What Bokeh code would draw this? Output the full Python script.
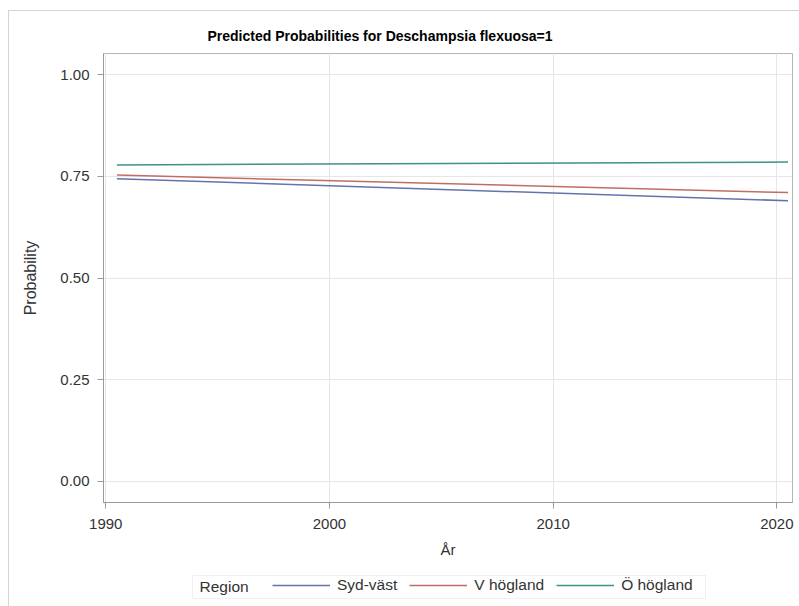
from bokeh.plotting import figure
from bokeh.layouts import column
from bokeh.models import (Legend, LegendItem, FixedTicker, Range1d, Label,
                          BoxAnnotation, NumeralTickFormatter)
from bokeh.embed import file_html
from bokeh.resources import INLINE

# Predicted probabilities per region over the study period
years = [1990.5, 2020.5]
syd_vast = [0.744, 0.690]
v_hogland = [0.753, 0.710]
o_hogland = [0.778, 0.785]

regions = ["Syd-väst", "V högland", "Ö högland"]
colors = ["#6672ad", "#bf6e66", "#3f9284"]

x_ticks = [1990, 2000, 2010, 2020]
y_ticks = [0.0, 0.25, 0.5, 0.75, 1.0]

FONT = "Liberation Sans"
TXT = "#333333"
W = 790
FRAME_L, FRAME_R = 103, 792   # page x of the plot frame edges

# main plot
p = figure(width=W, height=549, output_backend="svg", toolbar_location=None,
           x_range=Range1d(1989.9, 2020.7), y_range=Range1d(-0.052, 1.052),
           min_border_left=94, min_border_right=7, min_border_top=42,
           min_border_bottom=58)

p.title.text = "Predicted Probabilities for Deschampsia flexuosa=1"
p.title.align = "left"
p.title.offset = 104
p.title.standoff = 20
p.title.text_font = FONT
p.title.text_font_size = "14px"
p.title.text_font_style = "bold"
p.title.text_color = "#000000"

p.outline_line_color = "#b4b4b4"
p.background_fill_color = "white"
p.border_fill_color = "white"

for ax in (p.xaxis, p.yaxis):
    ax.axis_line_color = "#999999"
    ax.major_tick_line_color = "#999999"
    ax.major_tick_out = 6
    ax.major_tick_in = 0
    ax.minor_tick_line_color = None
    ax.major_label_text_font = FONT
    ax.major_label_text_font_size = "15px"
    ax.major_label_text_color = TXT
    ax.axis_label_text_font = FONT
    ax.axis_label_text_font_size = "15px"
    ax.axis_label_text_font_style = "normal"
    ax.axis_label_text_color = TXT

p.yaxis.axis_label_text_font_size = "16px"

p.xaxis.ticker = FixedTicker(ticks=x_ticks)
p.yaxis.ticker = FixedTicker(ticks=y_ticks)
p.yaxis.formatter = NumeralTickFormatter(format="0.00")
p.xaxis.axis_label = "År"
p.yaxis.axis_label = "Probability"
p.xaxis.major_label_standoff = 10
p.xaxis.axis_label_standoff = 9
p.yaxis.major_label_standoff = 8
p.yaxis.axis_label_standoff = 18

p.grid.grid_line_color = "#e6e6e6"
p.grid.grid_line_width = 1

for vals, col in zip([syd_vast, v_hogland, o_hogland], colors):
    p.line(years, vals, line_color=col, line_width=1.5)

# legend strip below the plot; its frame lines up with the plot frame,
# so its x range is given in page pixels
LH = 46
leg = figure(width=W, height=LH, output_backend="svg", toolbar_location=None,
             x_range=Range1d(FRAME_L, FRAME_R), y_range=Range1d(0, LH),
             x_axis_type=None, y_axis_type=None, min_border=0)
leg.outline_line_color = None
leg.grid.visible = False
leg.background_fill_color = "white"
leg.border_fill_color = "white"

leg.add_layout(BoxAnnotation(left=192, right=705, bottom=8, top=31,
                             fill_alpha=0, line_color="#cccccc",
                             line_width=1))
leg.add_layout(Label(x=199, y=20, text="Region", text_font=FONT,
                     text_font_size="15.5px", text_color=TXT,
                     text_baseline="middle"))

# off-screen proxies that give the legend its line swatches
proxies = [leg.line([-100, -90], [-100, -100], line_color=c, line_width=1.5)
           for c in colors]
legend = Legend(items=[LegendItem(label=lab, renderers=[r])
                       for lab, r in zip(regions, proxies)],
                orientation="horizontal", location=(272 - FRAME_L, 12),
                label_text_font=FONT, label_text_font_size="15.5px",
                label_text_color=TXT, glyph_width=58, glyph_height=16,
                label_height=16, label_standoff=7, spacing=12, padding=0,
                margin=0, border_line_color=None, background_fill_alpha=0)
leg.add_layout(legend)

layout = column(p, leg, spacing=0, margin=(10, 0, 0, 8),
                styles={"border-left": "1px solid #d4d4d4",
                        "border-top": "1px solid #d4d4d4"})

open("out.html", "w").write(file_html(layout, INLINE))
